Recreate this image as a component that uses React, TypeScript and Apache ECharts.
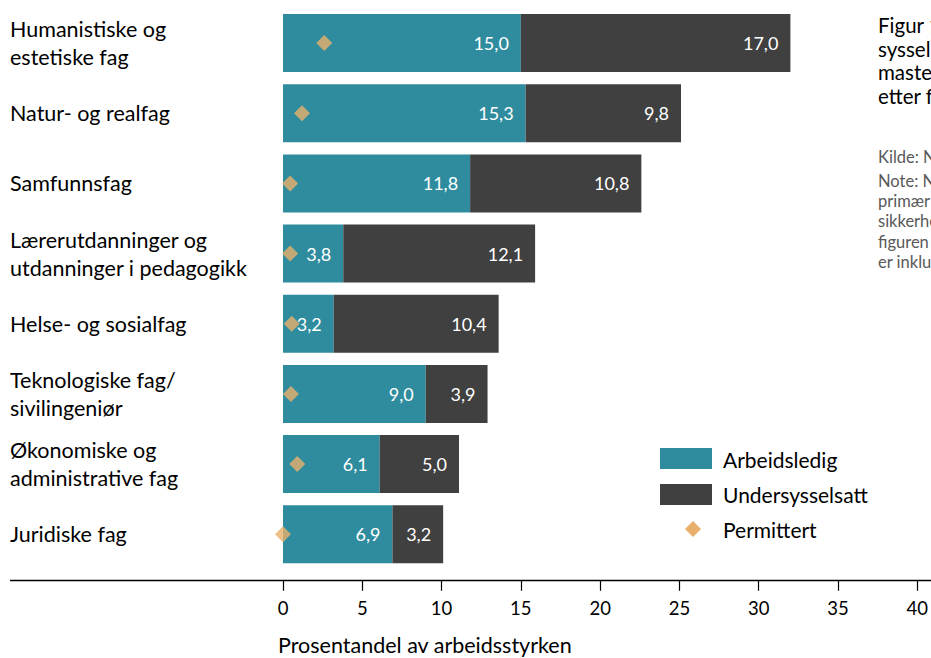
import React, { useEffect, useRef } from "react";
import * as echarts from "echarts";

const categories = [
  "Humanistiske og\nestetiske fag",
  "Natur- og realfag",
  "Samfunnsfag",
  "Lærerutdanninger og\nutdanninger i pedagogikk",
  "Helse- og sosialfag",
  "Teknologiske fag/\nsivilingeniør",
  "Økonomiske og\nadministrative fag",
  "Juridiske fag",
];
const arbeidsledig = [15.0, 15.3, 11.8, 3.8, 3.2, 9.0, 6.1, 6.9];
const undersysselsatt = [17.0, 9.8, 10.8, 12.1, 10.4, 3.9, 5.0, 3.2];
const permittert = [2.6, 1.2, 0.45, 0.45, 0.55, 0.5, 0.9, 0.0];
const seriesNames = ["Arbeidsledig", "Undersysselsatt", "Permittert"];
const xTicks = { min: 0, max: 40, interval: 5 };
const titleLines = ["Figur 1 Andel", "sysselsatte", "mastere", "etter fag"];
const noteLines = ["Kilde: NIFU", "Note: NIFU", "primær", "sikkerhet", "figuren", "er inkludert"];

const TEAL = "#2E8C9E";
const DARK = "#404040";
const GOLD = "#E8B06A";
const FONT = "Lato, 'Open Sans', sans-serif";

const fmt = (v: number) => v.toFixed(1).replace(".", ",");

export default function App() {
  const ref = useRef<HTMLDivElement>(null);
  useEffect(() => {
    if (!ref.current) return;
    const chart = echarts.init(ref.current, undefined, { renderer: "svg" });
    const barLabel = {
      show: true,
      position: "insideRight",
      distance: 12,
      color: "#ffffff",
      fontSize: 18,
      fontFamily: FONT,
      formatter: (p: any) => fmt(p.value),
    };
    const graphic: any[] = [
      {
        type: "line",
        shape: { x1: 10, y1: 580.5, x2: 931, y2: 580.5 },
        style: { stroke: "#000", lineWidth: 1.3 },
      },
      {
        type: "text",
        x: 278,
        y: 645,
        style: { text: "Prosentandel av arbeidsstyrken", fontSize: 21.5, fontFamily: FONT, fill: "#000", verticalAlign: "middle" },
      },
      { type: "rect", shape: { x: 660, y: 448, width: 52, height: 21 }, style: { fill: TEAL } },
      { type: "rect", shape: { x: 660, y: 484, width: 52, height: 21 }, style: { fill: DARK } },
      { type: "polygon", shape: { points: [[693, 521], [701, 529], [693, 537], [685, 529]] }, style: { fill: GOLD } },
      ...seriesNames.map((n, i) => ({
        type: "text",
        x: 723,
        y: 459 + i * 35,
        style: { text: n, fontSize: 21, fontFamily: FONT, fill: "#000", verticalAlign: "middle" },
      })),
      ...titleLines.map((t, i) => ({
        type: "text",
        x: 878,
        y: 25 + i * 23.7,
        style: { text: t, fontSize: 20.5, fontFamily: FONT, fill: "#000", verticalAlign: "middle" },
      })),
      ...noteLines.map((t, i) => ({
        type: "text",
        x: 878,
        y: i === 0 ? 157 : 181 + (i - 1) * 20.2,
        style: { text: t, fontSize: 16.5, fontFamily: FONT, fill: "#595959", verticalAlign: "middle" },
      })),
    ];
    chart.setOption({
      animation: false,
      textStyle: { fontFamily: FONT },
      grid: { left: 283, right: 13, top: 8, bottom: 88.7, containLabel: false },
      xAxis: {
        type: "value",
        min: xTicks.min,
        max: xTicks.max,
        interval: xTicks.interval,
        position: "bottom",
        offset: 11.5,
        axisLine: { show: false },
        axisTick: { show: true, length: 10, lineStyle: { color: "#000", width: 1.2 } },
        splitLine: { show: false },
        axisLabel: { fontSize: 18.5, color: "#000", margin: 18, fontFamily: FONT },
      },
      yAxis: {
        type: "category",
        data: categories,
        inverse: true,
        axisLine: { show: false },
        axisTick: { show: false },
        axisLabel: { align: "left", margin: 273, fontSize: 21.5, lineHeight: 28, color: "#000", fontFamily: FONT },
      },
      graphic,
      series: [
        {
          name: seriesNames[0],
          type: "bar",
          stack: "total",
          data: arbeidsledig,
          barWidth: 58,
          itemStyle: { color: TEAL },
          label: barLabel,
        },
        {
          name: seriesNames[1],
          type: "bar",
          stack: "total",
          data: undersysselsatt,
          barWidth: 58,
          itemStyle: { color: DARK },
          label: barLabel,
        },
        {
          name: seriesNames[2],
          type: "scatter",
          symbol: "diamond",
          symbolSize: 16,
          z: 5,
          itemStyle: { color: GOLD },
          data: permittert.map((v, i) => [v, categories[i]]),
        },
      ],
    });
    return () => chart.dispose();
  }, []);
  return <div ref={ref} style={{ width: 931, height: 658, position: "absolute", left: 0, top: 0 }} />;
}
